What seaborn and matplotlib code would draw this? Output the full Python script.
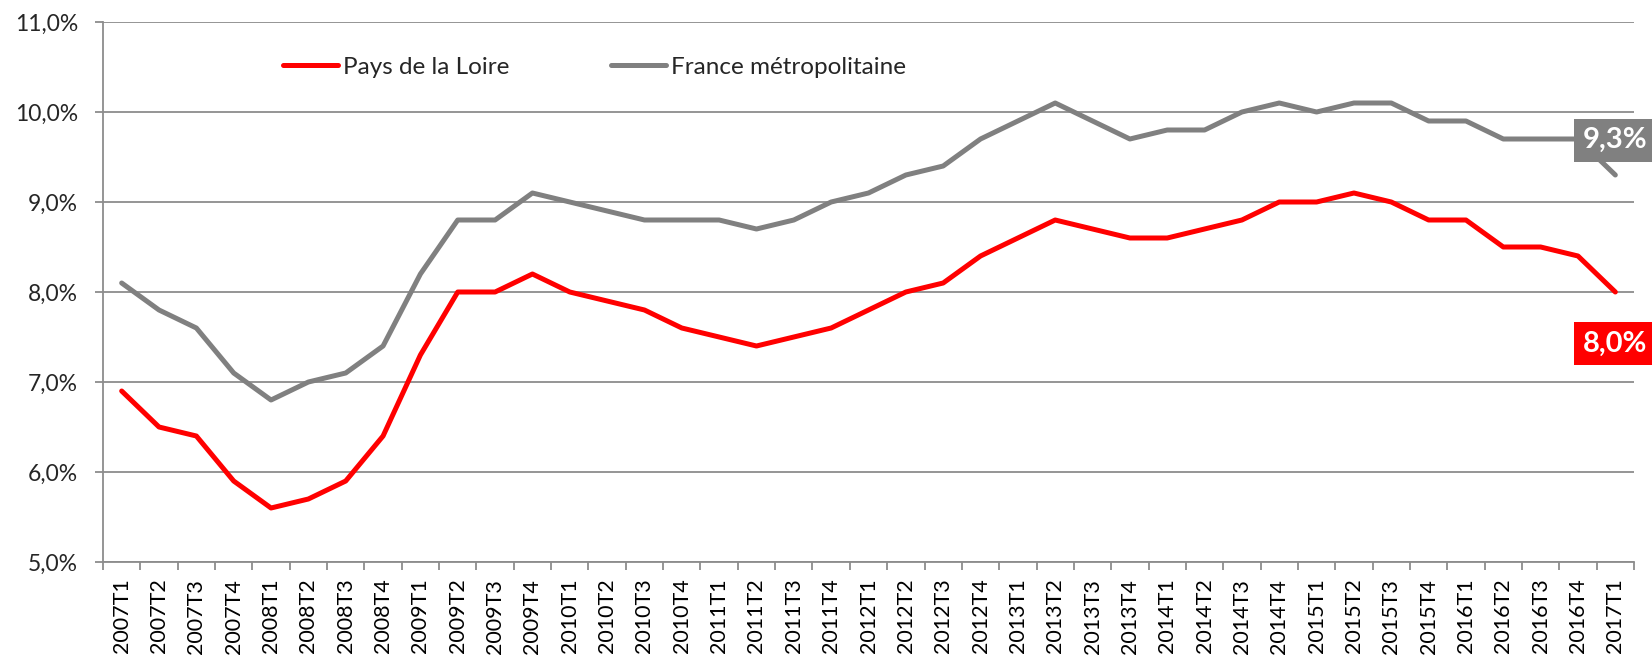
import numpy as np
import pandas as pd
import matplotlib
matplotlib.use("Agg")
import matplotlib.pyplot as plt
import seaborn as sns
from matplotlib.ticker import FuncFormatter, FixedLocator

# Données : taux de chômage trimestriel
trimestres = [f"{a}T{t}" for a in range(2007, 2017) for t in range(1, 5)] + ["2017T1"]

pays_de_la_loire = [6.9, 6.5, 6.4, 5.9, 5.6, 5.7, 5.9, 6.4, 7.3, 8.0, 8.0, 8.2,
                    8.0, 7.9, 7.8, 7.6, 7.5, 7.4, 7.5, 7.6, 7.8, 8.0, 8.1, 8.4,
                    8.6, 8.8, 8.7, 8.6, 8.6, 8.7, 8.8, 9.0, 9.0, 9.1, 9.0, 8.8,
                    8.8, 8.5, 8.5, 8.4, 8.0]
france_metro = [8.1, 7.8, 7.6, 7.1, 6.8, 7.0, 7.1, 7.4, 8.2, 8.8, 8.8, 9.1,
                9.0, 8.9, 8.8, 8.8, 8.8, 8.7, 8.8, 9.0, 9.1, 9.3, 9.4, 9.7,
                9.9, 10.1, 9.9, 9.7, 9.8, 9.8, 10.0, 10.1, 10.0, 10.1, 10.1, 9.9,
                9.9, 9.7, 9.7, 9.7, 9.3]

series = ["Pays de la Loire", "France métropolitaine"]
couleurs = {"Pays de la Loire": "#ff0000", "France métropolitaine": "#808080"}

df = pd.DataFrame({
    "trimestre": trimestres * 2,
    "taux": pays_de_la_loire + france_metro,
    "serie": [series[0]] * len(trimestres) + [series[1]] * len(trimestres),
})

sns.set_theme(style="white")
plt.rcParams["font.family"] = ["Lato", "DejaVu Sans"]

fig = plt.figure(figsize=(16.52, 6.61), dpi=100)
ax = fig.add_axes([103 / 1652, 1 - 562 / 661, (1634 - 103) / 1652, (562 - 22) / 661])

sns.lineplot(data=df, x="trimestre", y="taux", hue="serie", hue_order=series,
             palette=couleurs, linewidth=3.6, sort=False, ax=ax, zorder=3)

n = len(trimestres)
ax.set_xlim(-0.5, n - 0.5)
ax.set_ylim(5, 11)
ax.set_yticks(np.arange(5, 11.5, 1))
ax.yaxis.set_major_formatter(FuncFormatter(lambda v, p: f"{v:.1f}%".replace(".", ",")))
ax.grid(axis="y", color="#8c8c8c", linewidth=1.3)
ax.set_axisbelow(True)

# ticks x : libellés au centre, petits traits aux séparations
ax.set_xticks(range(n))
ax.set_xticklabels(trimestres, rotation=90)
ax.xaxis.set_minor_locator(FixedLocator(np.arange(-0.5, n, 1)))
ax.tick_params(axis="x", which="major", length=0, pad=12, labelsize=15.5, colors="black")
ax.tick_params(axis="x", which="minor", length=6, width=1.3, color="#8c8c8c", bottom=True)
ax.tick_params(axis="y", length=6, width=1.3, color="#8c8c8c", pad=12, labelsize=16.5, left=True)

for s in ["top", "right"]:
    ax.spines[s].set_visible(False)
for s in ["left", "bottom"]:
    ax.spines[s].set_color("#8c8c8c")
    ax.spines[s].set_linewidth(1.3)

ax.set_xlabel("")
ax.set_ylabel("")

ax.legend(loc="center left", bbox_to_anchor=(283 / 1652, 1 - 67 / 661),
          bbox_transform=fig.transFigure, ncol=2, frameon=False, fontsize=17.5,
          handlelength=2.25, handletextpad=0.2, columnspacing=4.2,
          borderpad=0, borderaxespad=0)

# étiquettes de la dernière valeur
ax.annotate(f"{france_metro[-1]:.1f}%".replace(".", ","), xy=(n - 1, france_metro[-1]),
            xytext=(0, 25), textcoords="offset points", ha="center", va="center",
            fontsize=21, fontweight="bold", color="white", zorder=5, annotation_clip=False,
            bbox=dict(boxstyle="square,pad=0.3", fc="#808080", ec="none"))
ax.annotate(f"{pays_de_la_loire[-1]:.1f}%".replace(".", ","), xy=(n - 1, pays_de_la_loire[-1]),
            xytext=(0, -37), textcoords="offset points", ha="center", va="center",
            fontsize=21, fontweight="bold", color="white", zorder=5, annotation_clip=False,
            bbox=dict(boxstyle="square,pad=0.3", fc="#ff0000", ec="none"))

fig.savefig("out.png", dpi=100)
